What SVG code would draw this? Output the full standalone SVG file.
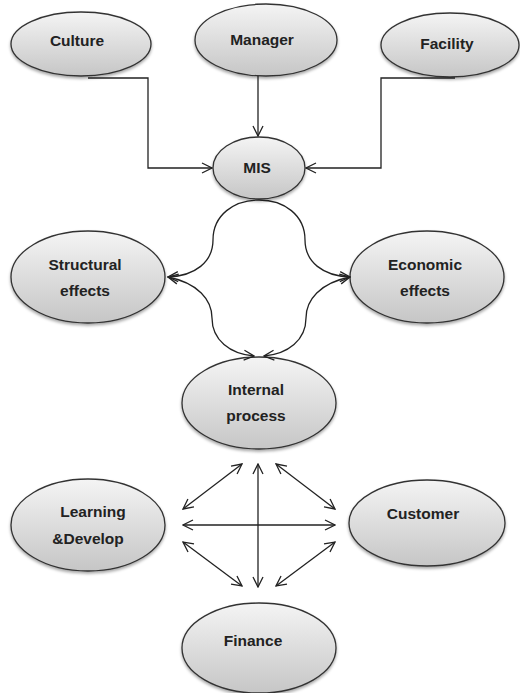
<svg xmlns="http://www.w3.org/2000/svg" width="520" height="693" viewBox="0 0 520 693">
<defs>
<linearGradient id="g" x1="0" y1="0" x2="0" y2="1">
<stop offset="0" stop-color="#f4f4f4"/>
<stop offset="1" stop-color="#c6c6c6"/>
</linearGradient>
<filter id="sh" x="-10%" y="-10%" width="120%" height="130%">
<feDropShadow dx="0" dy="2" stdDeviation="1.5" flood-color="#000" flood-opacity="0.35"/>
</filter>
<marker id="ah" viewBox="0 0 12 12" refX="11" refY="6" markerWidth="12" markerHeight="12" markerUnits="userSpaceOnUse" orient="auto-start-reverse">
<path d="M1,1 L11,6 L1,11" fill="none" stroke="#222" stroke-width="1.3"/>
</marker>
</defs>
<style>
.n ellipse{fill:url(#g);stroke:#333;stroke-width:1.3;filter:url(#sh)}
.n text{font-family:"Liberation Sans",Arial,sans-serif;font-weight:bold;font-size:15.5px;fill:#222;text-anchor:middle}
.c path,.c line{fill:none;stroke:#222;stroke-width:1.3}
</style>
<g id="n-culture" class="n"><ellipse cx="81" cy="44" rx="70" ry="32"/><text x="77" y="46">Culture</text></g>
<g id="n-manager" class="n"><ellipse cx="266" cy="40" rx="71" ry="36"/><text x="262" y="45">Manager</text></g>
<g id="n-facility" class="n"><ellipse cx="450" cy="45" rx="69" ry="32"/><text x="447" y="49">Facility</text></g>
<g id="n-mis" class="n"><ellipse cx="259" cy="168" rx="46" ry="31"/><text x="257" y="173">MIS</text></g>
<g id="n-structural" class="n"><ellipse cx="88" cy="277" rx="77" ry="46"/><text x="85" y="270">Structural</text><text x="85" y="296">effects</text></g>
<g id="n-economic" class="n"><ellipse cx="427" cy="277" rx="77" ry="46"/><text x="425" y="270">Economic</text><text x="425" y="296">effects</text></g>
<g id="n-internal" class="n"><ellipse cx="259" cy="403" rx="77" ry="46"/><text x="256" y="395">Internal</text><text x="256" y="421">process</text></g>
<g id="n-learning" class="n"><ellipse cx="88" cy="525" rx="77" ry="46"/><text x="93" y="517">Learning</text><text x="88" y="544">&amp;Develop</text></g>
<g id="n-customer" class="n"><ellipse cx="427" cy="523" rx="78" ry="43"/><text x="423" y="519">Customer</text></g>
<g id="n-finance" class="n"><ellipse cx="259" cy="648" rx="77" ry="45"/><text x="253" y="646">Finance</text></g>
<g id="connectors" class="c">
<path d="M88,78 H148 V168 H212" marker-end="url(#ah)"/>
<path d="M258,76 V136" marker-end="url(#ah)"/>
<path d="M455,78 H381 V168 H306" marker-end="url(#ah)"/>
<path d="M259,200 C234,200 213,215 213,240 C213,262 195,276 168,277" marker-end="url(#ah)"/>
<path d="M259,200 C284,200 305,215 305,240 C305,262 323,276 350,277" marker-end="url(#ah)"/>
<path d="M168,277 C198,283 212,300 212,318 C212,340 230,354 254,356" marker-start="url(#ah)" marker-end="url(#ah)"/>
<path d="M350,277 C320,283 306,300 306,318 C306,340 288,354 264,356" marker-start="url(#ah)" marker-end="url(#ah)"/>
<line x1="258" y1="464" x2="258" y2="587" marker-start="url(#ah)" marker-end="url(#ah)"/>
<line x1="183" y1="525" x2="335" y2="525" marker-start="url(#ah)" marker-end="url(#ah)"/>
<line x1="242" y1="464" x2="183" y2="509" marker-start="url(#ah)" marker-end="url(#ah)"/>
<line x1="276" y1="464" x2="335" y2="509" marker-start="url(#ah)" marker-end="url(#ah)"/>
<line x1="183" y1="542" x2="242" y2="586" marker-start="url(#ah)" marker-end="url(#ah)"/>
<line x1="335" y1="542" x2="276" y2="586" marker-start="url(#ah)" marker-end="url(#ah)"/>
</g>
</svg>
